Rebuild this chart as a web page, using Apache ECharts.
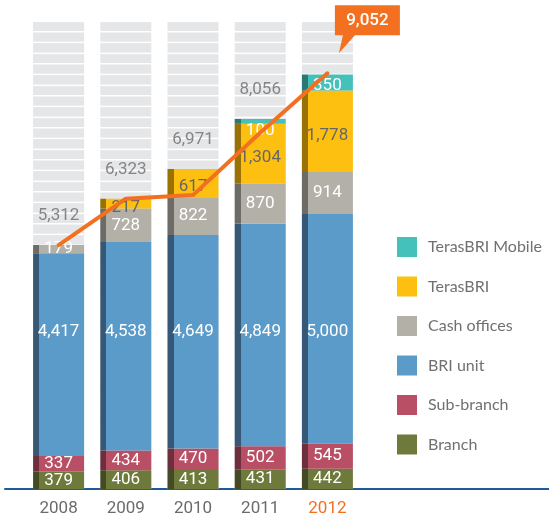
<!DOCTYPE html>
<html>
<head>
<meta charset="utf-8">
<script src="https://cdn.jsdelivr.net/npm/echarts@6/dist/echarts.min.js"></script>
<style>
  html, body { margin: 0; padding: 0; background: #fff; }
  #chart { width: 549px; height: 520px; }
</style>
</head>
<body>
<div id="chart"></div>
<script>
// data
const years = ['2008', '2009', '2010', '2011', '2012'];
const branch = [379, 406, 413, 431, 442];
const subBranch = [337, 434, 470, 502, 545];
const briUnit = [4417, 4538, 4649, 4849, 5000];
const cashOffices = [179, 728, 822, 870, 914];
const terasBri = [0, 217, 617, 1304, 1778];
const terasBriMobile = [0, 0, 0, 100, 350];
const totals = [5312, 6323, 6971, 8056, 9052];
const trendLine = [5312, 6323, 6400, 7760, 9052];

// level where the BRI unit labels sit as one row
const unitLabelLevel = 3420;
const axisMax = 10170;

const ORANGE = '#f37021';
const FONT = 'Roboto';

// bar fill with the darker strip on the left edge
function stripFill(main, dark) {
  return {
    type: 'linear', x: 0, y: 0, x2: 1, y2: 0,
    colorStops: [
      { offset: 0, color: dark }, { offset: 0.118, color: dark },
      { offset: 0.118, color: main }, { offset: 1, color: main }
    ]
  };
}

// striped grey background behind each bar
function stripePattern() {
  const c = document.createElement('canvas');
  c.width = 8; c.height = 32;
  const ctx = c.getContext('2d');
  ctx.fillStyle = '#e5e6e8';
  ctx.fillRect(0, 0, 8, 32);
  ctx.fillStyle = '#ffffff';
  ctx.fillRect(0, 9.6, 8, 1.5);
  ctx.fillRect(0, 20.6, 8, 1.5);
  ctx.fillRect(0, 31, 8, 1);
  ctx.fillRect(0, 0, 8, 0.5);
  return { image: c, repeat: 'repeat' };
}

const fmt = v => Number(v).toLocaleString('en-US');

const colors = {
  'Branch': ['#6e7a3c', '#434a24'],
  'Sub-branch': ['#b84f64', '#6e2f3c'],
  'BRI unit': ['#5b9bca', '#365876'],
  'Cash offices': ['#b3b0a8', '#6c6b66'],
  'TerasBRI': ['#fec010', '#9a7203'],
  'TerasBRI Mobile': ['#45c1bc', '#2a7773']
};

function barSeries(name, id, values, label) {
  return {
    id: id,
    name: name,
    type: 'bar',
    stack: 'total',
    barWidth: 51,
    data: values,
    itemStyle: { color: stripFill(colors[name][0], colors[name][1]) },
    label: Object.assign({
      show: true,
      position: 'inside',
      color: '#ffffff',
      fontSize: 17,
      fontFamily: FONT,
      formatter: p => (p.value ? fmt(p.value) : '')
    }, label || {})
  };
}

const chart = echarts.init(document.getElementById('chart'));

const branchSeries = barSeries('Branch', 'branch', branch);
branchSeries.showBackground = true;
branchSeries.backgroundStyle = { color: stripePattern() };

const legendNames = ['TerasBRI Mobile', 'TerasBRI', 'Cash offices', 'BRI unit', 'Sub-branch', 'Branch'];

const option = {
  animation: false,
  grid: [
    { left: 25, right: 188, top: 22, bottom: 31 },
    { left: 5, right: 0, top: 22, bottom: 31 }
  ],
  legend: {
    orient: 'vertical',
    left: 397,
    top: 237,
    padding: 0,
    itemWidth: 20,
    itemHeight: 20,
    itemGap: 19.5,
    selectedMode: false,
    textStyle: { fontSize: 16, color: '#707070', fontFamily: 'Lato', padding: [0, 0, 0, 6] },
    data: legendNames.map(n => ({ name: n, icon: 'rect', itemStyle: { color: colors[n][0] } }))
  },
  xAxis: [
    {
      type: 'category',
      gridIndex: 0,
      data: years.map((y, i) => i === years.length - 1 ? { value: y, textStyle: { color: ORANGE } } : y),
      axisLine: { show: false },
      axisTick: { show: false },
      axisLabel: { color: '#6b6b6b', fontSize: 17, fontFamily: FONT, margin: 11 }
    },
    {
      type: 'category',
      gridIndex: 1,
      data: [''],
      axisLine: { show: true, lineStyle: { color: '#1f5a9a', width: 2 } },
      axisTick: { show: false },
      axisLabel: { show: false }
    }
  ],
  yAxis: [
    { type: 'value', gridIndex: 0, min: 0, max: axisMax, show: false },
    { type: 'value', gridIndex: 1, show: false }
  ],
  series: [
    branchSeries,
    barSeries('Sub-branch', 'sub', subBranch),
    barSeries('BRI unit', 'unit', briUnit),
    barSeries('Cash offices', 'cash', cashOffices),
    barSeries('TerasBRI', 'teras', terasBri, { color: '#666666', offset: [0, 4] }),
    barSeries('TerasBRI Mobile', 'mobile', terasBriMobile, { position: 'insideTop', distance: 3 }),
    {
      name: 'trend',
      type: 'line',
      data: trendLine,
      symbol: 'none',
      z: 5,
      lineStyle: { color: ORANGE, width: 4, cap: 'round', join: 'round' }
    },
    {
      name: 'totals',
      type: 'scatter',
      data: totals,
      symbolSize: 1,
      itemStyle: { color: 'rgba(0,0,0,0)' },
      z: 6,
      label: {
        show: true,
        position: 'top',
        distance: 20,
        color: '#6b6b6b',
        fontSize: 17,
        fontFamily: FONT,
        formatter: p => (p.dataIndex === totals.length - 1 ? '' : fmt(p.value))
      },
      markPoint: {
        symbol: 'path://M0,0H65V30H20L4,48L8,30H0Z',
        symbolSize: [65, 48],
        symbolOffset: [40, -44],
        itemStyle: { color: ORANGE },
        label: {
          show: true,
          position: 'inside',
          offset: [0, -9],
          color: '#ffffff',
          fontSize: 17,
          fontWeight: 500,
          fontFamily: FONT,
          formatter: () => fmt(totals[totals.length - 1])
        },
        data: [{ coord: [years.length - 1, totals[totals.length - 1]] }]
      }
    }
  ]
};

chart.setOption(option);

// keep the BRI unit labels on one row, as in the original
const finder = { xAxisIndex: 0, yAxisIndex: 0 };
const unitData = briUnit.map((v, i) => {
  const base = branch[i] + subBranch[i];
  const yTop = chart.convertToPixel(finder, [i, base + v])[1];
  const yBot = chart.convertToPixel(finder, [i, base])[1];
  const yRow = chart.convertToPixel(finder, [i, unitLabelLevel])[1];
  return { value: v, label: { offset: [0, yRow - (yTop + yBot) / 2] } };
});
chart.setOption({ series: [{ id: 'unit', data: unitData }] });

window.addEventListener('resize', function () {
  chart.resize();
});
</script>
</body>
</html>
